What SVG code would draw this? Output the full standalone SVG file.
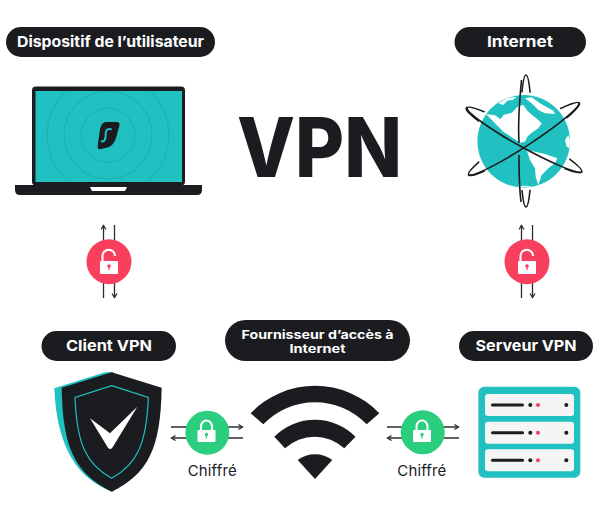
<svg xmlns="http://www.w3.org/2000/svg" width="600" height="511" viewBox="0 0 600 511">
<style>
.pill{fill:#1a1c1f}
.lbl{font-family:"Inter","Liberation Sans",sans-serif;font-weight:700;fill:#fff;font-size:15px;text-anchor:middle}
.lbs{font-size:12px}
.cap{font-family:"Inter","Liberation Sans",sans-serif;font-weight:400;fill:#1a1c1f;font-size:15px}
.dk{fill:#1a1c1f}.teal{fill:#20c1c0}
.orb{fill:none;stroke:#1a1c1f;stroke-width:1.6}
.ln{fill:none;stroke:#2a2c2f;stroke-width:1.3}
.ring{fill:none;stroke:#1aa6a6;stroke-width:.7}
.bar{stroke:#1a1c1f;stroke-width:3;stroke-linecap:round}
</style>
<defs>
<marker id="ah" markerWidth="7" markerHeight="7" refX="5" refY="3" orient="auto" markerUnits="userSpaceOnUse"><path d="M1 .5L5 3L1 5.500" fill="none" stroke="#2a2c2f" stroke-width="1.300"/></marker>
<clipPath id="scr"><rect x="35.500" y="91" width="146.500" height="91"/></clipPath>
<g id="rowdots"><rect x="485" y="0" width="89" height="22" rx="3" fill="#f5f5f5"/><line class="bar" x1="492.500" y1="11" x2="522.500" y2="11"/><circle cx="530.300" cy="11" r="2" fill="#1a1c1f"/><circle cx="538" cy="11" r="2" fill="#f4405f"/><circle cx="566.300" cy="11" r="2" fill="#1a1c1f"/></g>
<g id="lockg"><path d="M-5.500 0V-5.500A5.500 6 0 0 1 5.500 -5.500V0" fill="none" stroke="#fff" stroke-width="2"/><rect x="-9" y="-2" width="18" height="12" rx="1" fill="#fff"/><circle cy="2.500" r="1.700" fill="#2bce7f"/><rect x="-.6" y="2.500" width="1.200" height="4" fill="#2bce7f"/></g>
<g id="lockr"><path d="M-6.500 -1V-6A6 6 0 0 1 6 -6" fill="none" stroke="#fff" stroke-width="2"/><rect x="-9" y="-1" width="18" height="13" rx="1" fill="#fff"/><circle cy="4" r="1.800" fill="#f8405e"/><rect x="-.6" y="4" width="1.200" height="4" fill="#f8405e"/></g>
</defs>
<rect width="600" height="511" fill="#fff"/>

<g id="connectors">
<path class="ln" marker-end="url(#ah)" d="M103.500 298V225.500"/>
<path class="ln" marker-end="url(#ah)" d="M114.500 225V297.500"/>
<path class="ln" marker-end="url(#ah)" d="M521.500 298V225.500"/>
<path class="ln" marker-end="url(#ah)" d="M532.500 225V297.500"/>
<path class="ln" marker-end="url(#ah)" d="M171 427H242.500"/>
<path class="ln" marker-end="url(#ah)" d="M243 438H171.500"/>
<path class="ln" marker-end="url(#ah)" d="M387 427H458.500"/>
<path class="ln" marker-end="url(#ah)" d="M459 438H387.500"/>
</g>

<g id="title"><text x="237" y="177" font-family="Inter,'Liberation Sans',sans-serif" font-weight="800" font-size="82" fill="#1a1c1f" textLength="165" lengthAdjust="spacingAndGlyphs">VPN</text></g>

<g id="node-device">
<rect class="pill" x="6" y="27" width="209" height="30" rx="15"/>
<text class="lbl" x="110.500" y="47" textLength="187" lengthAdjust="spacingAndGlyphs">Dispositif de l’utilisateur</text>
<rect class="dk" x="32" y="86.500" width="153" height="99" rx="4"/>
<rect class="teal" x="35.500" y="91" width="146.500" height="91"/>
<g clip-path="url(#scr)"><circle class="ring" cx="108" cy="135" r="27"/><circle class="ring" cx="108" cy="135" r="44"/><circle class="ring" cx="108" cy="135" r="61"/></g>
<g transform="translate(85 112) scale(.3333)">
<path class="dk" d="M62 30H95Q106 30 103 42L93 78Q86 100 70 106L45 112Q37 113 38 103L44 58Q47 32 62 30Z"/>
<path d="M78 52C64 48 62 58 62 68S60 90 50 88" fill="none" stroke="#20c1c0" stroke-width="6" stroke-linecap="round"/>
</g>
<path class="dk" d="M15 185H202V190Q202 195 197 195H20Q15 195 15 190Z"/>
<path d="M90 187H127L125 191H92Z" fill="#fff"/>
</g>

<g id="node-internet">
<rect class="pill" x="454.500" y="27" width="131.500" height="30" rx="15"/>
<text class="lbl" x="520" y="47" textLength="66" lengthAdjust="spacingAndGlyphs">Internet</text>
<ellipse class="orb" cx="526" cy="141" rx="6" ry="66"/>
<ellipse class="orb" cx="524" cy="140" rx="66" ry="8" transform="rotate(29 524 140)"/>
<ellipse class="orb" cx="524" cy="139" rx="66" ry="8" transform="rotate(-33 524 139)"/>
<circle cx="523.700" cy="141.300" r="49" fill="#fff"/>
<circle class="teal" cx="523.700" cy="141.300" r="46.300"/>
<g transform="translate(470 90) scale(.3333)" fill="#fff">
<path d="M48 72L75 76L92 88L100 75L125 68L145 48L160 45L172 62L190 78L205 90L215 100L205 115L185 128L172 140L165 155L150 158L130 145L100 125L75 100Z"/>
<path class="teal" d="M172 58L198 56L205 80L190 76Z"/>
<path d="M165 25L185 22L210 40L250 62L255 72L225 70L205 60L185 40Z"/>
<path d="M85 40L110 25L140 20L128 30L112 32L100 45Z"/>
<path d="M170 180L195 185L225 192L262 205L255 220L235 235L215 255L205 285L197 260L195 235L180 210Z"/>
<path d="M285 150L295 135L300 150L299 175L290 170Z"/>
<path d="M140 289Q160 293 190 289Q160 286 140 289Z"/>
</g>
<path class="orb" d="M467 108A66 8 29 0 0 582 172"/>
<path class="orb" d="M469 175A66 8 -33 0 0 579 103"/>
<path class="orb" d="M521.500 80C519.500 100 518 125 519 143M519 155C519 170 519.500 190 521 202"/>
</g>

<g id="node-client">
<rect class="pill" x="41.500" y="331" width="134.500" height="30" rx="15"/>
<text class="lbl" x="109" y="351" textLength="86" lengthAdjust="spacingAndGlyphs">Client VPN</text>
<g transform="translate(50 365) scale(.3333)">
<path class="teal" d="M13 70L165 22H190V381C85 345 20 250 13 70Z"/>
<path class="dk" d="M35 68L185 22L335 68C332 250 295 325 185 380C75 325 38 250 35 68Z"/>
<path d="M185 62L295 97C290 235 262 298 185 340C108 298 80 235 75 97Z" fill="none" stroke="#20c1c0" stroke-width="3.500"/>
<path fill="#fff" d="M120 160L180 205L262 125L187 248Q180 256 174 248Z"/>
</g>
</g>

<g id="node-isp">
<rect class="pill" x="225" y="320" width="185" height="41" rx="20.500"/>
<text class="lbl lbs" x="317.500" y="338.500" textLength="152" lengthAdjust="spacingAndGlyphs">Fournisseur d’accès à</text>
<text class="lbl lbs" x="317.500" y="353" textLength="56" lengthAdjust="spacingAndGlyphs">Internet</text>
<path class="dk" d="M250.700 413.300A88.700 88.700 0 0 1 379.300 413.300L366.700 424.300A71.700 71.700 0 0 0 263.300 424.300Z"/>
<path class="dk" d="M274.300 436.700A57 57 0 0 1 355.500 436.700L344.300 448.300A43.700 43.700 0 0 0 285 448.300Z"/>
<path class="dk" d="M297.700 460A29 29 0 0 1 332.300 460L315 479Z"/>
</g>

<g id="node-server">
<rect class="pill" x="459" y="331" width="134" height="30" rx="15"/>
<text class="lbl" x="526" y="351" textLength="101" lengthAdjust="spacingAndGlyphs">Serveur VPN</text>
<rect class="teal" x="478.300" y="386.700" width="102" height="91" rx="6"/>
<use href="#rowdots" y="394"/><use href="#rowdots" y="421.700"/><use href="#rowdots" y="449.300"/>
</g>

<g id="lock-red-left"><circle cx="109" cy="261.700" r="22.500" fill="#f8405e"/><use href="#lockr" x="109" y="262"/></g>
<g id="lock-red-right"><circle cx="527" cy="261.700" r="22.500" fill="#f8405e"/><use href="#lockr" x="527" y="262"/></g>
<g id="lock-green-left"><circle cx="207.300" cy="432.700" r="22" fill="#2bce7f"/><use href="#lockg" x="206.500" y="432"/>
<text class="cap" x="187.700" y="476" textLength="49">Chiffré</text></g>
<g id="lock-green-right"><circle cx="422.700" cy="432.300" r="22" fill="#2bce7f"/><use href="#lockg" x="422" y="432"/>
<text class="cap" x="397.300" y="476" textLength="49">Chiffré</text></g>
</svg>
